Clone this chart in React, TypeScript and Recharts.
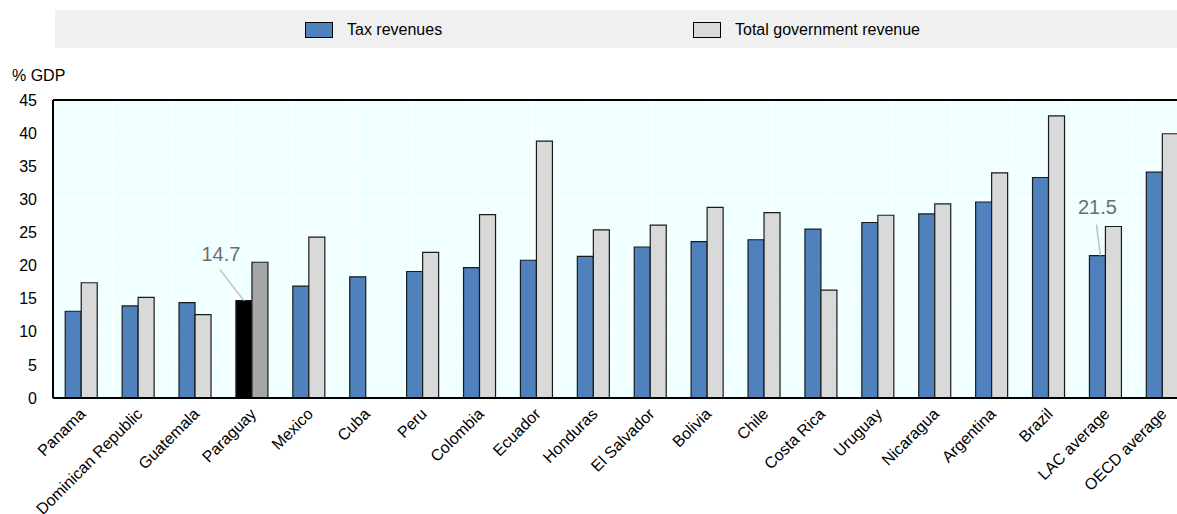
import React from "react";
import {
  BarChart,
  Bar,
  XAxis,
  YAxis,
  CartesianGrid,
  Cell,
  Legend,
  LabelList,
  ReferenceLine,
} from "recharts";

const categories = [
  "Panama",
  "Dominican Republic",
  "Guatemala",
  "Paraguay",
  "Mexico",
  "Cuba",
  "Peru",
  "Colombia",
  "Ecuador",
  "Honduras",
  "El Salvador",
  "Bolivia",
  "Chile",
  "Costa Rica",
  "Uruguay",
  "Nicaragua",
  "Argentina",
  "Brazil",
  "LAC average",
  "OECD average",
];

const taxRevenues = [
  13.1, 13.9, 14.4, 14.7, 16.9, 18.3, 19.1, 19.7, 20.8, 21.4, 22.8, 23.6, 23.9,
  25.5, 26.5, 27.8, 29.6, 33.3, 21.5, 34.1,
];

const totalRevenue: (number | null)[] = [
  17.4, 15.2, 12.6, 20.5, 24.3, null, 22.0, 27.7, 38.8, 25.4, 26.1, 28.8, 28.0,
  16.3, 27.6, 29.3, 34.0, 42.6, 25.9, 39.9,
];

const yTicks = [0, 5, 10, 15, 20, 25, 30, 35, 40, 45];
const highlighted = "Paraguay";
const annotated = ["Paraguay", "LAC average"];

const seriesNames = ["Tax revenues", "Total government revenue"];

const data = categories.map((c, i) => ({
  name: c,
  tax: taxRevenues[i],
  total: totalRevenue[i],
}));

const boundaryTicks = categories.map((_, i) => i).concat([categories.length]);

const FONT = "'Liberation Sans', Arial, sans-serif";
const BLUE = "#4f81bd";
const GREY = "#d9d9d9";

const XTick = (props: any) => {
  const { x, y, payload } = props;
  const px = x + 5;
  const py = y + 17;
  return (
    <text
      x={px}
      y={py}
      transform={`rotate(-45 ${px} ${py})`}
      textAnchor="end"
      fontFamily={FONT}
      fontSize={16}
      fill="#000"
    >
      {payload.value}
    </text>
  );
};

const AnnotationLabel = (props: any) => {
  const { x, y, width, index, value } = props;
  const name = categories[index];
  if (!annotated.includes(name)) return null;
  const cx = x + width / 2;
  const isFirst = name === "Paraguay";
  const tx = isFirst ? cx - 23 : cx;
  const ty = isFirst ? y - 40 : y - 42;
  const lx1 = isFirst ? cx - 24 : cx - 1;
  const ly1 = y - 31;
  const lx2 = isFirst ? cx : cx + 3;
  return (
    <g>
      <line x1={lx1} y1={ly1} x2={lx2} y2={y} stroke="#c0c0c0" strokeWidth={1.5} />
      <text
        x={tx}
        y={ty}
        textAnchor="middle"
        fontFamily={FONT}
        fontSize={20}
        fill="#6e6e6e"
      >
        {Number(value).toFixed(1)}
      </text>
    </g>
  );
};

const LegendContent = () => (
  <div
    style={{
      width: "100%",
      height: "100%",
      background: "#f0f0f0",
      position: "relative",
      fontFamily: FONT,
      fontSize: 16,
    }}
  >
    {seriesNames.map((s, i) => (
      <div
        key={s}
        style={{
          position: "absolute",
          left: i === 0 ? 250 : 638,
          top: 11,
          display: "flex",
          alignItems: "center",
          whiteSpace: "nowrap",
        }}
      >
        <span
          style={{
            display: "inline-block",
            width: 26,
            height: 14,
            background: i === 0 ? BLUE : GREY,
            border: "1px solid #000",
            marginRight: 14,
          }}
        />
        <span style={{ color: "#000" }}>{s}</span>
      </div>
    ))}
  </div>
);

const GdpLabel = (props: any) => {
  const { viewBox } = props;
  return (
    <text x={viewBox.x + 12} y={viewBox.y - 19} fontFamily={FONT} fontSize={16} fill="#000">
      % GDP
    </text>
  );
};

export default function App() {
  return (
    <div
      style={{
        position: "absolute",
        left: 0,
        top: 0,
        width: 1177,
        height: 514,
        overflow: "hidden",
        background: "#fff",
      }}
    >
      <BarChart
        width={1191}
        height={514}
        data={data}
        margin={{ top: 100, right: 0, bottom: 0, left: 0 }}
        barCategoryGap="21.5%"
        barGap={0}
      >
        <CartesianGrid
          xAxisId="b"
          fill="#f0ffff"
          stroke="#ffffff"
          strokeWidth={1.5}
          vertical={true}
          horizontal={true}
        />
        <XAxis
          xAxisId="b"
          type="number"
          domain={[0, categories.length]}
          ticks={boundaryTicks}
          orientation="bottom"
          height={0}
          mirror
          axisLine={false}
          tickSize={5}
          tickLine={{ stroke: "#000", strokeWidth: 1.5 }}
          tickFormatter={() => ""}
        />
        <XAxis
          xAxisId="main"
          dataKey="name"
          interval={0}
          height={116}
          tickSize={0}
          tickMargin={0}
          tickLine={false}
          axisLine={{ stroke: "#000", strokeWidth: 2 }}
          tick={<XTick />}
        />
        <YAxis
          domain={[0, 45]}
          ticks={yTicks}
          width={53}
          tickSize={0}
          tickMargin={16}
          tickLine={false}
          axisLine={{ stroke: "#000", strokeWidth: 2 }}
          tick={{ fontFamily: FONT, fontSize: 16, fill: "#000" }}
          label={<GdpLabel />}
          interval={0}
        />
        <ReferenceLine xAxisId="main" y={45} stroke="#000" strokeWidth={2} />
        <Legend
          layout="horizontal"
          verticalAlign="middle"
          align="center"
          wrapperStyle={{ top: 10, left: 55, width: 1122, height: 38 }}
          content={<LegendContent />}
        />
        <Bar
          xAxisId="main"
          dataKey="tax"
          name={seriesNames[0]}
          fill={BLUE}
          stroke="#1a1a1a"
          strokeWidth={1.2}
          isAnimationActive={false}
        >
          {data.map((d) => (
            <Cell key={d.name} fill={d.name === highlighted ? "#000000" : BLUE} />
          ))}
          <LabelList dataKey="tax" content={<AnnotationLabel />} />
        </Bar>
        <Bar
          xAxisId="main"
          dataKey="total"
          name={seriesNames[1]}
          fill={GREY}
          stroke="#1a1a1a"
          strokeWidth={1.2}
          isAnimationActive={false}
        >
          {data.map((d) => (
            <Cell key={d.name} fill={d.name === highlighted ? "#a6a6a6" : GREY} />
          ))}
        </Bar>
      </BarChart>
    </div>
  );
}
